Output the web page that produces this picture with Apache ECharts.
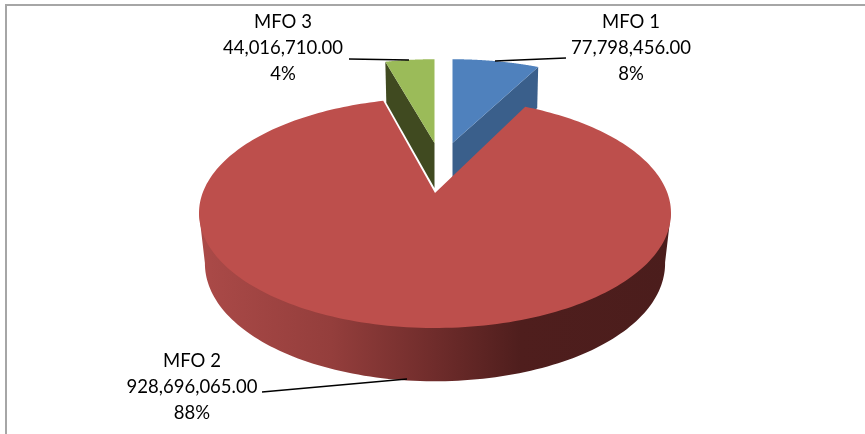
<!DOCTYPE html>
<html><head><meta charset="utf-8">
<style>html,body{margin:0;padding:0;background:#fff}#c{width:865px;height:434px}</style>
<script src="https://cdn.jsdelivr.net/npm/echarts@6/dist/echarts.min.js"></script>
</head><body><div id="c"></div>
<script>
const categories = ['MFO 1', 'MFO 2', 'MFO 3'];
const amounts = [77798456.00, 928696065.00, 44016710.00];
const percents = ['8%', '88%', '4%'];

// Projection layout of each exploded slice (perspective disc -> screen)
const layout = [
  {x:452.5, y:143, a:220, b:98,  k:0.17, dTop:44, z:2, top:'#4f81bd', wall:'#3a5f8b'},
  {x:435,   y:193, a:232.4, b:111.5, k:0.174, dTop:44, z:5, top:'#bd4f4c', wall:null},
  {x:434.5, y:143, a:220, b:98,  k:0.17, dTop:44, z:2, top:'#9bbb59', wall:'#404a20'}
];
const labelLayout = [
  {x:631, y:48, line:[[495,61],[566,58]]},
  {x:192, y:387, line:[[262,392],[407,379]]},
  {x:283, y:48, line:[[349,59],[409,60]]}
];

const total = amounts.reduce((s, v) => s + v, 0);
const startAngles = [];
amounts.reduce((acc, v, i) => { startAngles[i] = acc; return acc + v / total * 2 * Math.PI; }, 0);

function topPt(L, t) {
  const s = Math.sin(t), c = Math.cos(t), w = 1 + L.k * c;
  return [L.x + L.a * s / w, L.y - L.b * c / w];
}
function lowPt(L, t) {
  const s = Math.sin(t), c = Math.cos(t), w = 1 + L.k * c;
  const depth = L.dTop / w + 5 * (1 - c * c);
  return [L.x + 0.975 * L.a * s / w, L.y - L.b * c / w + depth];
}
function fmt(v) {
  return v.toLocaleString('en-US', {minimumFractionDigits: 2, maximumFractionDigits: 2});
}

function renderItem(params, api) {
  const i = params.dataIndex, L = layout[i];
  const v = api.value(1);
  const t0 = startAngles[i], t1 = t0 + v / total * 2 * Math.PI;
  const rim = [], low = [], N = 240;
  for (let n = 0; n <= N; n++) {
    const t = t0 + (t1 - t0) * n / N;
    rim.push(topPt(L, t)); low.push(lowPt(L, t));
  }
  const kids = [];
  const apex = [L.x, L.y], apexLow = [L.x, L.y + L.dTop + 1];
  if (i === 1) {
    // side wall between the two silhouette tangents of the rim
    let iR = 0, iL = 0;
    rim.forEach((p, n) => { if (p[0] > rim[iR][0]) iR = n; if (p[0] < rim[iL][0]) iL = n; });
    const wall = [rim[iR]].concat(low.slice(iR, iL + 1), [rim[iL]]);
    kids.push({type:'polygon', z2:L.z, shape:{points: wall},
      style:{fill:new echarts.graphic.LinearGradient(0,0,1,0,[
        {offset:0,color:'#ab4a48'},{offset:0.28,color:'#943e3c'},{offset:0.5,color:'#6f2c2b'},
        {offset:0.68,color:'#4f1e1d'},{offset:1,color:'#4b1d1c'}])}});
  } else {
    const edge = i === 0 ? t1 : t0;
    const p = topPt(L, edge);
    kids.push({type:'polygon', z2:L.z, shape:{points:[apex, p, [p[0]+(i===0?-1:1), p[1]+41], apexLow]},
      style:{fill:L.wall}});
  }
  kids.push({type:'polygon', z2:L.z + 1, shape:{points:[apex].concat(rim)}, style:{fill:L.top}});
  const T = labelLayout[i];
  kids.push({type:'polyline', z2:10, shape:{points:T.line}, style:{fill:'none', stroke:'#000', lineWidth:1.5}});
  kids.push({type:'text', z2:10, style:{
    x:T.x, y:T.y, text:[categories[i], fmt(v), percents[i]].join('\n'),
    align:'center', verticalAlign:'middle', lineHeight:25.7,
    font:'18.5px Lato, "Open Sans", sans-serif', fill:'#000'}});
  return {type:'group', children:kids};
}

const chart = echarts.init(document.getElementById('c'), null, {renderer:'canvas'});
chart.setOption({
  animation:false,
  backgroundColor:'#fff',
  graphic:[{type:'rect', z:-1, silent:true, shape:{x:6,y:5,width:900,height:440},
    style:{fill:'none', stroke:'#a6a6a6', lineWidth:2}}],
  series:[{type:'custom', coordinateSystem:'none', renderItem, clip:false,
    data:categories.map((n,i)=>({name:n, value:[i, amounts[i]]}))}]
});
</script></body></html>
